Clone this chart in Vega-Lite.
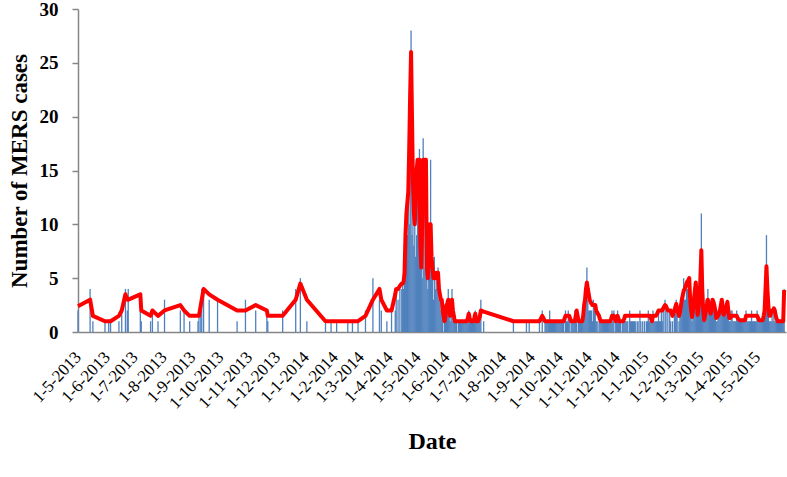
{
  "$schema": "https://vega.github.io/schema/vega-lite/v6.json",
  "width": 708,
  "height": 323,
  "autosize": {"type": "none"},
  "padding": {"left": 78, "top": 9, "right": 1, "bottom": 145},
  "background": "white",
  "config": {"view": {"stroke": null}},
  "data": {"values": [
    {"d":"2013-05-01","n":2,"m":2.4},{"d":"2013-05-14","n":4,"m":3},{"d":"2013-05-17","n":1,"m":1.5},{"d":"2013-05-30","n":1,"m":1},
    {"d":"2013-06-03","n":1,"m":1},{"d":"2013-06-05","n":1,"m":1},{"d":"2013-06-14","n":1,"m":1.5},{"d":"2013-06-17","n":2,"m":2},
    {"d":"2013-06-21","n":4,"m":3.5},{"d":"2013-06-23","n":2,"m":3},{"d":"2013-06-24","n":4,"m":3},{"d":"2013-07-07","n":2,"m":3.5},
    {"d":"2013-07-08","n":1,"m":2},{"d":"2013-07-18","n":1,"m":1.5},{"d":"2013-07-20","n":2,"m":2},{"d":"2013-07-26","n":1,"m":1.5},
    {"d":"2013-08-02","n":3,"m":2},{"d":"2013-08-19","n":2,"m":2.5},{"d":"2013-08-23","n":2,"m":2},{"d":"2013-08-29","n":1,"m":1.5},
    {"d":"2013-09-07","n":1,"m":1.5},{"d":"2013-09-08","n":2,"m":1.5},{"d":"2013-09-10","n":3,"m":2.5},{"d":"2013-09-11","n":4,"m":3},
    {"d":"2013-09-13","n":4,"m":4},{"d":"2013-09-19","n":3,"m":3.5},{"d":"2013-09-28","n":3,"m":3},{"d":"2013-10-19","n":1,"m":2},
    {"d":"2013-10-28","n":3,"m":2},{"d":"2013-11-08","n":2,"m":2.5},{"d":"2013-11-20","n":2,"m":2},{"d":"2013-11-21","n":1,"m":1.5},
    {"d":"2013-12-07","n":2,"m":1.5},{"d":"2013-12-21","n":4,"m":3},{"d":"2013-12-26","n":5,"m":4.5},{"d":"2014-01-02","n":1,"m":3},
    {"d":"2014-01-22","n":1,"m":1},{"d":"2014-01-28","n":1,"m":1},{"d":"2014-02-03","n":1,"m":1},{"d":"2014-02-15","n":1,"m":1},
    {"d":"2014-02-20","n":1,"m":1},{"d":"2014-02-26","n":1,"m":1},{"d":"2014-03-06","n":2,"m":1.5},{"d":"2014-03-14","n":5,"m":3},
    {"d":"2014-03-21","n":3,"m":4},{"d":"2014-03-23","n":2,"m":3},{"d":"2014-03-29","n":1,"m":2},{"d":"2014-04-03","n":2,"m":2},
    {"d":"2014-04-07","n":2,"m":3.5},{"d":"2014-04-08","n":4,"m":4},{"d":"2014-04-10","n":3,"m":4},{"d":"2014-04-12","n":4,"m":4.3},
    {"d":"2014-04-14","n":4,"m":4.5},{"d":"2014-04-15","n":5,"m":4.5},{"d":"2014-04-16","n":4,"m":4.7},{"d":"2014-04-17","n":6,"m":5.5},
    {"d":"2014-04-18","n":8,"m":9},{"d":"2014-04-19","n":12,"m":11},{"d":"2014-04-20","n":9,"m":12},{"d":"2014-04-21","n":14,"m":13},
    {"d":"2014-04-22","n":10,"m":17},{"d":"2014-04-23","n":15,"m":22},{"d":"2014-04-24","n":28,"m":26},{"d":"2014-04-25","n":9,"m":20},
    {"d":"2014-04-26","n":12,"m":14},{"d":"2014-04-27","n":8,"m":11},{"d":"2014-04-28","n":10,"m":10},{"d":"2014-04-29","n":7,"m":12},
    {"d":"2014-04-30","n":9,"m":15},{"d":"2014-05-01","n":16,"m":16},{"d":"2014-05-02","n":14,"m":16},{"d":"2014-05-03","n":17,"m":16},
    {"d":"2014-05-04","n":6,"m":8},{"d":"2014-05-05","n":10,"m":6},{"d":"2014-05-06","n":5,"m":10},{"d":"2014-05-07","n":18,"m":16},
    {"d":"2014-05-08","n":16,"m":16},{"d":"2014-05-09","n":6,"m":16},{"d":"2014-05-10","n":16,"m":16},{"d":"2014-05-11","n":5,"m":6},
    {"d":"2014-05-12","n":4,"m":5},{"d":"2014-05-13","n":6,"m":7},{"d":"2014-05-14","n":9,"m":10},{"d":"2014-05-15","n":16,"m":10},
    {"d":"2014-05-16","n":10,"m":7},{"d":"2014-05-17","n":5,"m":6},{"d":"2014-05-18","n":3,"m":5},{"d":"2014-05-19","n":7,"m":5},
    {"d":"2014-05-20","n":4,"m":5},{"d":"2014-05-21","n":5,"m":5.5},{"d":"2014-05-22","n":4,"m":5},{"d":"2014-05-23","n":6,"m":5.5},
    {"d":"2014-05-24","n":3,"m":4},{"d":"2014-05-25","n":4,"m":3.5},{"d":"2014-05-26","n":2,"m":3},{"d":"2014-05-27","n":3,"m":3},
    {"d":"2014-05-28","n":2,"m":2},{"d":"2014-05-30","n":1,"m":1},{"d":"2014-05-31","n":2,"m":1.5},{"d":"2014-06-01","n":3,"m":2.5},
    {"d":"2014-06-02","n":2,"m":2.6},{"d":"2014-06-03","n":4,"m":3},{"d":"2014-06-04","n":2,"m":2},{"d":"2014-06-05","n":1,"m":1.5},
    {"d":"2014-06-06","n":3,"m":2.5},{"d":"2014-06-07","n":4,"m":3},{"d":"2014-06-08","n":1,"m":2},{"d":"2014-06-09","n":2,"m":1.5},
    {"d":"2014-06-10","n":1,"m":1},{"d":"2014-06-14","n":1,"m":1},{"d":"2014-06-15","n":1,"m":1},{"d":"2014-06-17","n":1,"m":1},
    {"d":"2014-06-19","n":1,"m":1},{"d":"2014-06-22","n":1,"m":1},{"d":"2014-06-23","n":1,"m":1},{"d":"2014-06-25","n":2,"m":1.7},
    {"d":"2014-06-27","n":1,"m":1},{"d":"2014-06-30","n":1,"m":1},{"d":"2014-07-02","n":2,"m":1.7},{"d":"2014-07-03","n":1,"m":1},
    {"d":"2014-07-05","n":1,"m":1},{"d":"2014-07-08","n":3,"m":2},{"d":"2014-07-11","n":1,"m":1.9},{"d":"2014-08-12","n":1,"m":1},
    {"d":"2014-08-26","n":1,"m":1},{"d":"2014-08-29","n":1,"m":1},{"d":"2014-09-09","n":1,"m":1},{"d":"2014-09-12","n":2,"m":1.5},
    {"d":"2014-09-15","n":1,"m":1},{"d":"2014-09-17","n":1,"m":1},{"d":"2014-09-19","n":1,"m":1},{"d":"2014-09-21","n":1,"m":1},
    {"d":"2014-09-23","n":1,"m":1},{"d":"2014-09-25","n":1,"m":1},{"d":"2014-09-27","n":1,"m":1},{"d":"2014-09-29","n":1,"m":1},
    {"d":"2014-10-01","n":1,"m":1},{"d":"2014-10-03","n":1,"m":1},{"d":"2014-10-07","n":2,"m":1.5},{"d":"2014-10-09","n":1,"m":1.5},
    {"d":"2014-10-11","n":1,"m":1.5},{"d":"2014-10-13","n":1,"m":1},{"d":"2014-10-16","n":1,"m":1},{"d":"2014-10-19","n":2,"m":2},
    {"d":"2014-10-21","n":1,"m":1},{"d":"2014-10-24","n":1,"m":1},{"d":"2014-10-27","n":2,"m":2.5},{"d":"2014-10-30","n":6,"m":4.6},
    {"d":"2014-11-01","n":2,"m":3.5},{"d":"2014-11-03","n":2,"m":2.8},{"d":"2014-11-06","n":3,"m":2.5},{"d":"2014-11-08","n":2,"m":2.5},
    {"d":"2014-11-09","n":1,"m":2},{"d":"2014-11-12","n":1,"m":1.5},{"d":"2014-11-14","n":1,"m":1},{"d":"2014-11-17","n":1,"m":1},
    {"d":"2014-11-19","n":1,"m":1},{"d":"2014-11-21","n":1,"m":1},{"d":"2014-11-24","n":1,"m":1},{"d":"2014-11-26","n":2,"m":1.5},
    {"d":"2014-11-28","n":2,"m":1.5},{"d":"2014-11-30","n":1,"m":1},{"d":"2014-12-02","n":2,"m":1.5},{"d":"2014-12-05","n":1,"m":1},
    {"d":"2014-12-07","n":1,"m":1},{"d":"2014-12-10","n":1,"m":1.5},{"d":"2014-12-15","n":2,"m":1.5},{"d":"2014-12-18","n":1,"m":1.5},
    {"d":"2014-12-21","n":1,"m":1.5},{"d":"2014-12-26","n":2,"m":1.5},{"d":"2014-12-29","n":1,"m":1.5},{"d":"2015-01-02","n":1,"m":1.5},
    {"d":"2015-01-04","n":2,"m":1.5},{"d":"2015-01-06","n":1,"m":1.5},{"d":"2015-01-08","n":1,"m":1},{"d":"2015-01-09","n":2,"m":1.5},
    {"d":"2015-01-12","n":1,"m":1.5},{"d":"2015-01-15","n":2,"m":2},{"d":"2015-01-18","n":2,"m":2},{"d":"2015-01-22","n":3,"m":2.5},
    {"d":"2015-01-25","n":2,"m":2},{"d":"2015-01-27","n":2,"m":2},{"d":"2015-01-30","n":1,"m":1.5},{"d":"2015-02-03","n":3,"m":2.6},
    {"d":"2015-02-06","n":1,"m":1.5},{"d":"2015-02-09","n":3,"m":3},{"d":"2015-02-11","n":5,"m":3.8},{"d":"2015-02-14","n":4,"m":4.5},
    {"d":"2015-02-17","n":5,"m":5},{"d":"2015-02-20","n":1,"m":1.4},{"d":"2015-02-22","n":3,"m":3},{"d":"2015-02-24","n":4,"m":4.6},
    {"d":"2015-02-26","n":2,"m":1.6},{"d":"2015-02-28","n":3,"m":3},{"d":"2015-03-02","n":11,"m":7.6},{"d":"2015-03-04","n":2,"m":2},
    {"d":"2015-03-05","n":1,"m":1.1},{"d":"2015-03-07","n":3,"m":2},{"d":"2015-03-09","n":4,"m":3},{"d":"2015-03-10","n":2,"m":2.5},
    {"d":"2015-03-12","n":2,"m":1.7},{"d":"2015-03-14","n":3,"m":3},{"d":"2015-03-16","n":3,"m":2.5},{"d":"2015-03-18","n":1,"m":1.3},
    {"d":"2015-03-20","n":2,"m":1.5},{"d":"2015-03-22","n":2,"m":2},{"d":"2015-03-24","n":3,"m":3},{"d":"2015-03-26","n":2,"m":1.6},
    {"d":"2015-03-28","n":2,"m":2},{"d":"2015-03-30","n":3,"m":2.8},{"d":"2015-04-01","n":1,"m":1.3},{"d":"2015-04-04","n":2,"m":1.5},
    {"d":"2015-04-07","n":1,"m":1.5},{"d":"2015-04-09","n":2,"m":1.5},{"d":"2015-04-12","n":1,"m":1.1},{"d":"2015-04-15","n":1,"m":1.1},
    {"d":"2015-04-18","n":1,"m":1.1},{"d":"2015-04-19","n":2,"m":1.5},{"d":"2015-04-22","n":1,"m":1.5},{"d":"2015-04-25","n":2,"m":1.5},
    {"d":"2015-04-28","n":1,"m":1.5},{"d":"2015-05-01","n":2,"m":1.5},{"d":"2015-05-03","n":1,"m":1.1},{"d":"2015-05-06","n":1,"m":1.1},
    {"d":"2015-05-09","n":2,"m":2},{"d":"2015-05-11","n":9,"m":6.1},{"d":"2015-05-13","n":2,"m":2.5},{"d":"2015-05-14","n":1,"m":1.5},
    {"d":"2015-05-17","n":2,"m":2},{"d":"2015-05-19","n":2,"m":2.2},{"d":"2015-05-21","n":1,"m":1.5},{"d":"2015-05-23","n":1,"m":1},
    {"d":"2015-05-25","n":1,"m":1},{"d":"2015-05-28","n":1,"m":1},{"d":"2015-05-30","n":4,"m":3.9},
    {"d":"2014-06-11","n":1,"m":1},{"d":"2014-06-12","n":1,"m":1},{"d":"2014-06-16","n":1,"m":1},{"d":"2014-06-18","n":1,"m":1},
    {"d":"2014-06-20","n":1,"m":1},{"d":"2014-06-21","n":1,"m":1},{"d":"2014-06-24","n":1,"m":1.3},{"d":"2014-06-26","n":1,"m":1.3},
    {"d":"2014-06-28","n":1,"m":1},{"d":"2014-06-29","n":1,"m":1},{"d":"2014-07-01","n":1,"m":1.3},{"d":"2014-07-04","n":1,"m":1},
    {"d":"2014-07-06","n":1,"m":1.2},{"d":"2014-07-07","n":1,"m":1.5},
    {"d":"2014-09-16","n":1,"m":1},{"d":"2014-09-18","n":1,"m":1},{"d":"2014-09-20","n":2,"m":1},{"d":"2014-09-22","n":1,"m":1},
    {"d":"2014-09-24","n":1,"m":1},{"d":"2014-09-26","n":1,"m":1},{"d":"2014-09-28","n":1,"m":1},{"d":"2014-09-30","n":1,"m":1},
    {"d":"2014-10-02","n":1,"m":1},{"d":"2014-10-04","n":1,"m":1},{"d":"2014-10-05","n":1,"m":1},{"d":"2014-10-08","n":1,"m":1.5},
    {"d":"2014-10-10","n":2,"m":1.5},{"d":"2014-10-14","n":1,"m":1},{"d":"2014-10-15","n":1,"m":1},{"d":"2014-10-17","n":2,"m":1},
    {"d":"2014-10-18","n":1,"m":1.5},{"d":"2014-10-22","n":1,"m":1},{"d":"2014-10-23","n":1,"m":1},{"d":"2014-10-25","n":1,"m":1},
    {"d":"2014-10-26","n":1,"m":1.5},{"d":"2014-10-28","n":3,"m":3},{"d":"2014-10-29","n":4,"m":4},{"d":"2014-10-31","n":3,"m":4},
    {"d":"2014-11-02","n":2,"m":3},{"d":"2014-11-04","n":2,"m":2.6},{"d":"2014-11-05","n":1,"m":2.5},{"d":"2014-11-07","n":2,"m":2.5},
    {"d":"2014-11-10","n":1,"m":1.8},{"d":"2014-11-13","n":1,"m":1.2},{"d":"2014-11-15","n":1,"m":1},{"d":"2014-11-16","n":1,"m":1},
    {"d":"2014-11-18","n":1,"m":1},{"d":"2014-11-20","n":1,"m":1},{"d":"2014-11-22","n":1,"m":1},{"d":"2014-11-23","n":1,"m":1},
    {"d":"2014-11-25","n":1,"m":1.2},{"d":"2014-11-27","n":1,"m":1.5},
    {"d":"2014-12-01","n":1,"m":1.2},{"d":"2014-12-03","n":1,"m":1.2},{"d":"2014-12-04","n":1,"m":1},{"d":"2014-12-08","n":1,"m":1},
    {"d":"2014-12-09","n":1,"m":1.2},{"d":"2014-12-11","n":1,"m":1.5},{"d":"2014-12-12","n":1,"m":1.5},{"d":"2014-12-13","n":1,"m":1.5},
    {"d":"2014-12-16","n":1,"m":1.5},{"d":"2014-12-17","n":1,"m":1.5},{"d":"2014-12-19","n":1,"m":1.5},{"d":"2014-12-20","n":1,"m":1.5},
    {"d":"2014-12-23","n":1,"m":1.5},{"d":"2014-12-24","n":1,"m":1.5},{"d":"2014-12-27","n":1,"m":1.5},{"d":"2014-12-31","n":1,"m":1.5},
    {"d":"2015-01-03","n":1,"m":1.5},{"d":"2015-01-05","n":1,"m":1.5},{"d":"2015-01-07","n":1,"m":1.2},{"d":"2015-01-10","n":1,"m":1.5},
    {"d":"2015-01-11","n":1,"m":1.5},{"d":"2015-01-13","n":1,"m":1.6},{"d":"2015-01-14","n":1,"m":1.8},{"d":"2015-01-16","n":1,"m":2},
    {"d":"2015-01-17","n":1,"m":2},{"d":"2015-01-19","n":1,"m":2},{"d":"2015-01-20","n":2,"m":2.2},{"d":"2015-01-23","n":2,"m":2.4},
    {"d":"2015-01-28","n":1,"m":2},{"d":"2015-02-01","n":2,"m":2},{"d":"2015-02-02","n":2,"m":2.3},{"d":"2015-02-04","n":2,"m":2.2},
    {"d":"2015-02-07","n":2,"m":1.8},{"d":"2015-02-08","n":2,"m":2.4},{"d":"2015-02-10","n":4,"m":3.4},{"d":"2015-02-12","n":3,"m":4},
    {"d":"2015-02-13","n":3,"m":4.2},{"d":"2015-02-15","n":4,"m":4.7},{"d":"2015-02-16","n":3,"m":4.8},{"d":"2015-02-18","n":2,"m":3},
    {"d":"2015-02-19","n":2,"m":2},{"d":"2015-02-21","n":2,"m":2},{"d":"2015-02-23","n":3,"m":3.8},{"d":"2015-02-25","n":2,"m":3},
    {"d":"2015-02-27","n":2,"m":2.3},{"d":"2015-03-01","n":5,"m":5},{"d":"2015-03-03","n":4,"m":4},{"d":"2015-03-06","n":2,"m":1.5},
    {"d":"2015-03-08","n":3,"m":2.5},{"d":"2015-03-11","n":2,"m":2},{"d":"2015-03-13","n":2,"m":2.3},{"d":"2015-03-15","n":3,"m":2.8},
    {"d":"2015-03-17","n":2,"m":2},{"d":"2015-03-19","n":1,"m":1.4},{"d":"2015-03-21","n":2,"m":1.7},{"d":"2015-03-23","n":2,"m":2.5},
    {"d":"2015-03-25","n":2,"m":2.3},{"d":"2015-03-27","n":2,"m":1.8},{"d":"2015-03-29","n":2,"m":2.4},{"d":"2015-03-31","n":2,"m":2},
    {"d":"2015-04-02","n":1,"m":1.3},{"d":"2015-04-03","n":2,"m":1.4},{"d":"2015-04-05","n":1,"m":1.5},{"d":"2015-04-06","n":1,"m":1.5},
    {"d":"2015-04-08","n":1,"m":1.5},{"d":"2015-04-10","n":1,"m":1.3},{"d":"2015-04-11","n":1,"m":1.2},{"d":"2015-04-13","n":1,"m":1.1},
    {"d":"2015-04-14","n":1,"m":1.1},{"d":"2015-04-16","n":1,"m":1.1},{"d":"2015-04-17","n":1,"m":1.1},{"d":"2015-04-20","n":1,"m":1.5},
    {"d":"2015-04-21","n":1,"m":1.5},{"d":"2015-04-23","n":1,"m":1.5},{"d":"2015-04-24","n":1,"m":1.5},{"d":"2015-04-26","n":1,"m":1.5},
    {"d":"2015-04-27","n":1,"m":1.5},{"d":"2015-04-29","n":1,"m":1.5},{"d":"2015-04-30","n":1,"m":1.5},
    {"d":"2015-05-02","n":1,"m":1.3},{"d":"2015-05-04","n":1,"m":1.1},{"d":"2015-05-05","n":1,"m":1.1},{"d":"2015-05-07","n":1,"m":1.1},
    {"d":"2015-05-08","n":1,"m":1.5},{"d":"2015-05-10","n":3,"m":4},{"d":"2015-05-12","n":4,"m":4},{"d":"2015-05-15","n":1,"m":1.5},
    {"d":"2015-05-16","n":1,"m":1.8},{"d":"2015-05-18","n":1,"m":2},{"d":"2015-05-20","n":1,"m":2},{"d":"2015-05-22","n":1,"m":1.2},
    {"d":"2015-05-24","n":1,"m":1},{"d":"2015-05-26","n":1,"m":1},{"d":"2015-05-27","n":1,"m":1},{"d":"2015-05-29","n":1,"m":1}
  ]},
  "encoding": {
    "x": {
      "field": "d", "type": "temporal",
      "scale": {"domain": [{"year": 2013, "month": 5, "date": 1}, {"year": 2015, "month": 6, "date": 1}]},
      "axis": {
        "title": "Date",
        "values": [
          {"year":2013,"month":5,"date":1},{"year":2013,"month":6,"date":1},{"year":2013,"month":7,"date":1},{"year":2013,"month":8,"date":1},
          {"year":2013,"month":9,"date":1},{"year":2013,"month":10,"date":1},{"year":2013,"month":11,"date":1},{"year":2013,"month":12,"date":1},
          {"year":2014,"month":1,"date":1},{"year":2014,"month":2,"date":1},{"year":2014,"month":3,"date":1},{"year":2014,"month":4,"date":1},
          {"year":2014,"month":5,"date":1},{"year":2014,"month":6,"date":1},{"year":2014,"month":7,"date":1},{"year":2014,"month":8,"date":1},
          {"year":2014,"month":9,"date":1},{"year":2014,"month":10,"date":1},{"year":2014,"month":11,"date":1},{"year":2014,"month":12,"date":1},
          {"year":2015,"month":1,"date":1},{"year":2015,"month":2,"date":1},{"year":2015,"month":3,"date":1},{"year":2015,"month":4,"date":1},
          {"year":2015,"month":5,"date":1}
        ],
        "format": "%-d-%-m-%Y",
        "labelAngle": -47,
        "labelAlign": "right",
        "labelBaseline": "middle",
        "ticks": false,
        "tickSize": 0,
        "labelPadding": 22,
        "labelOverlap": false,
        "labelFlush": false,
        "labelFont": "Liberation Serif",
        "labelFontSize": 17,
        "labelColor": "#000000",
        "domainColor": "#868686",
        "domainWidth": 1.5,
        "grid": false,
        "titleFont": "Liberation Serif",
        "titleFontSize": 24,
        "titleFontWeight": "bold",
        "titleColor": "#000000",
        "titlePadding": 18
      }
    },
    "y": {
      "type": "quantitative",
      "scale": {"domain": [0, 30], "nice": false},
      "axis": {
        "title": "Number of MERS cases",
        "values": [0, 5, 10, 15, 20, 25, 30],
        "grid": false,
        "domainColor": "#868686",
        "domainWidth": 1.5,
        "tickColor": "#868686",
        "tickSize": 6,
        "tickWidth": 1.5,
        "labelPadding": 14,
        "labelFont": "Liberation Serif",
        "labelFontSize": 19,
        "labelFontWeight": "bold",
        "labelColor": "#000000",
        "titleFont": "Liberation Serif",
        "titleFontSize": 23,
        "titleFontWeight": "bold",
        "titleColor": "#000000",
        "titlePadding": 8
      }
    }
  },
  "layer": [
    {
      "mark": {"type": "rule", "color": "#4F81BD", "strokeWidth": 1.3},
      "encoding": {"y": {"field": "n", "type": "quantitative"}, "y2": {"datum": 0}}
    },
    {
      "mark": {"type": "line", "color": "#FF0000", "strokeWidth": 4, "strokeJoin": "round"},
      "encoding": {"y": {"field": "m", "type": "quantitative"}}
    }
  ]
}
